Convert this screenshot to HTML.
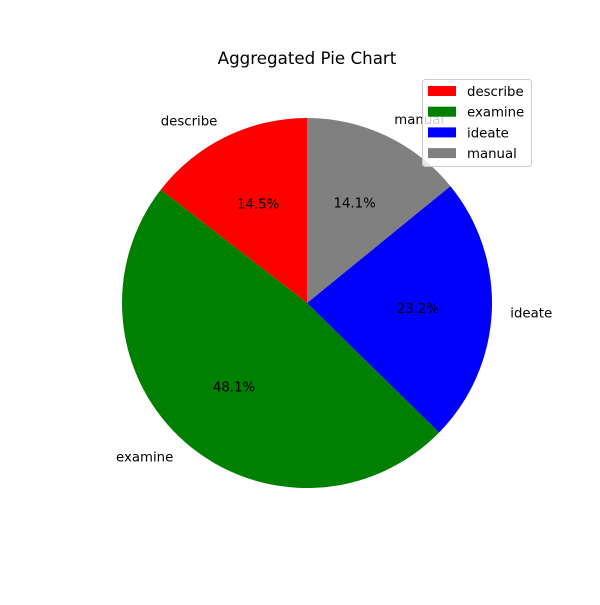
<!DOCTYPE html>
<html><head><meta charset="utf-8"><style>
body{margin:0;background:#fff;}
svg{font-family:"DejaVu Sans","Liberation Sans",sans-serif;}
</style></head><body>
<svg id="chart" width="600" height="600" xmlns="http://www.w3.org/2000/svg">
<rect width="600" height="600" fill="#fff"/>
<text x="307" y="64" font-size="16.7" text-anchor="middle">Aggregated Pie Chart</text>
<g id="slices"></g>
<g id="legend">
<rect x="422.5" y="79.5" width="109" height="87" rx="3" fill="#fff" fill-opacity="0.8" stroke="#ccc"/>
</g>
</svg>
<script>
const categories = ["describe","examine","ideate","manual"];
const values = [14.5, 48.1, 23.2, 14.1];
const pctLabels = ["14.5%","48.1%","23.2%","14.1%"];
const colors = ["#ff0000","#008000","#0000ff","#808080"];
const NS="http://www.w3.org/2000/svg";
const cx=307, cy=303, r=185;
const total=values.reduce((a,b)=>a+b,0);
const g=document.getElementById('slices');
let a0=90;
function pt(deg,rad){const t=deg*Math.PI/180;return [cx+rad*Math.cos(t), cy-rad*Math.sin(t)];}
values.forEach((v,i)=>{
  const sweep=v/total*360, a1=a0+sweep;
  const p0=pt(a0,r), p1=pt(a1,r);
  const path=document.createElementNS(NS,'path');
  path.setAttribute('d',`M${cx},${cy} L${p0[0]},${p0[1]} A${r},${r} 0 ${sweep>180?1:0} 0 ${p1[0]},${p1[1]} Z`);
  path.setAttribute('fill',colors[i]);
  
  
  g.appendChild(path);
  const mid=(a0+a1)/2;
  const lp=pt(mid,r*1.1);
  const lt=document.createElementNS(NS,'text');
  lt.setAttribute('x',lp[0]);lt.setAttribute('y',lp[1]+5);lt.setAttribute('font-size','13.3');
  lt.setAttribute('text-anchor', Math.cos(mid*Math.PI/180)<0?'end':'start');
  lt.textContent=categories[i];
  
  
  g.appendChild(lt);
  const pp=pt(mid,r*0.6);
  const pt2=document.createElementNS(NS,'text');
  pt2.setAttribute('x',pp[0]);pt2.setAttribute('y',pp[1]+5);pt2.setAttribute('font-size','13.3');
  pt2.setAttribute('text-anchor','middle');
  pt2.textContent=pctLabels[i];
  
  
  g.appendChild(pt2);
  a0=a1;
});
const lg=document.getElementById('legend');
categories.forEach((c,i)=>{
  const y=86+i*20.7;
  const rc=document.createElementNS(NS,'rect');
  rc.setAttribute('x',428);rc.setAttribute('y',y);rc.setAttribute('width',28);rc.setAttribute('height',10);
  rc.setAttribute('fill',colors[i]);
  
  
  lg.appendChild(rc);
  const t=document.createElementNS(NS,'text');
  t.setAttribute('x',467);t.setAttribute('y',y+10);t.setAttribute('font-size','13.3');
  t.textContent=c;
  
  
  lg.appendChild(t);
});
</script>
</body></html>
